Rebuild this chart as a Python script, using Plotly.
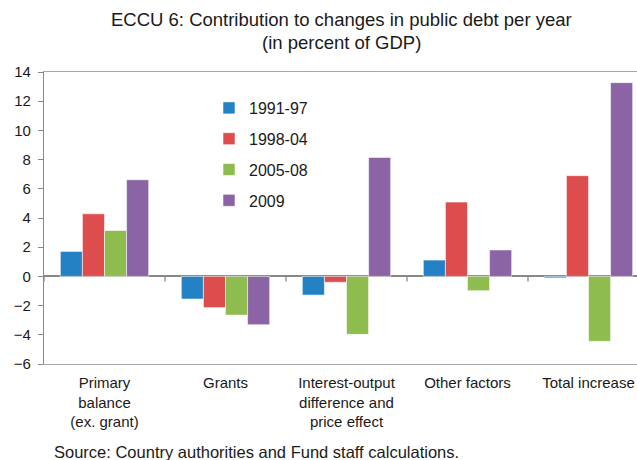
import plotly.graph_objects as go

# Contribution to changes in public debt per year, ECCU 6 (percent of GDP)
categories = ["Primary balance (ex. grant)", "Grants",
              "Interest-output difference and price effect",
              "Other factors", "Total increase"]
tick_labels = ["Primary<br>balance<br>(ex. grant)", "Grants",
               "Interest-output<br>difference and<br>price effect",
               "Other factors", "Total increase"]
series_names = ["1991-97", "1998-04", "2005-08", "2009"]
v_1991_97 = [1.71, -1.55, -1.28, 1.12, -0.10]
v_1998_04 = [4.29, -2.14, -0.40, 5.09, 6.90]
v_2005_08 = [3.15, -2.65, -3.97, -0.98, -4.45]
v_2009 = [6.62, -3.31, 8.15, 1.81, 13.27]
colors = ["#2381C4", "#DE4D4D", "#8FBC4F", "#8A64A4"]

title_lines = ["ECCU 6: Contribution to changes in public debt per year",
               "(in percent of GDP)"]
source_note = "Source: Country authorities and Fund staff calculations."

y_ticks = list(range(-6, 15, 2))
FONT = "Liberation Sans, Arial, sans-serif"
TXT = "#1a1a1a"

W, H = 637, 460
ML, MR, MT, MB = 44, 0, 72, 96
cat_px = 121.0
plot_w = W - ML - MR
plot_h = H - MT - MB
x_range = [-0.5, -0.5 + plot_w / cat_px]


def py_to_paper(py):
    """Convert a pixel row of the page into a paper y coordinate."""
    return 1 - (py - MT) / plot_h


fig = go.Figure()
for name, vals, col in zip(series_names,
                           [v_1991_97, v_1998_04, v_2005_08, v_2009], colors):
    fig.add_trace(go.Bar(
        x=list(range(len(categories))), y=vals, name=name,
        marker=dict(color=col, line=dict(color="rgba(255,255,255,0.7)", width=0.8)),
        legendgroup=name,
    ))

# category boundary ticks hanging below the zero line
shapes = []
for b in range(len(categories) + 1):
    shapes.append(dict(type="line", xref="x", yref="y", x0=b - 0.5, x1=b - 0.5,
                       ysizemode="pixel", yanchor=0, y0=0, y1=-5,
                       line=dict(color="#888888", width=1.3)))

annotations = []
for line, py in zip(title_lines, [20, 43]):
    annotations.append(dict(text=line, xref="paper", yref="paper",
                            x=(341 - ML) / plot_w, y=py_to_paper(py),
                            xanchor="center", yanchor="middle", showarrow=False,
                            font=dict(family=FONT, size=18.5, color=TXT)))
annotations.append(dict(text=source_note, xref="paper", yref="paper",
                        x=(52 - ML) / plot_w, y=py_to_paper(452),
                        xanchor="left", yanchor="middle", showarrow=False,
                        font=dict(family=FONT, size=16.5, color=TXT)))

fig.update_layout(
    width=W, height=H,
    margin=dict(l=ML, r=MR, t=MT, b=MB),
    paper_bgcolor="white", plot_bgcolor="white",
    barmode="group", bargap=0.27, bargroupgap=0,
    font=dict(family=FONT, size=15, color=TXT),
    xaxis=dict(range=x_range, tickvals=list(range(len(categories))), ticktext=tick_labels,
               ticks="", tickfont=dict(family=FONT, size=15, color=TXT),
               ticklabelstandoff=5,
               showline=True, mirror=True, linecolor="#A8A8A8", linewidth=1.3,
               showgrid=False, zeroline=False, automargin=False),
    yaxis=dict(range=[-6, 14], tickvals=y_ticks, ticks="outside", ticklen=5,
               tickcolor="#888888", showline=True, linecolor="#888888", linewidth=1.3,
               showgrid=False, zeroline=True, zerolinecolor="#888888", zerolinewidth=1.6,
               tickfont=dict(family=FONT, size=15, color=TXT), ticklabelstandoff=4,
               automargin=False),
    legend=dict(x=(209 - ML) / plot_w, y=py_to_paper(91),
                xanchor="left", yanchor="top", bgcolor="rgba(0,0,0,0)",
                font=dict(family=FONT, size=16, color=TXT),
                tracegroupgap=7, itemwidth=30),
    shapes=shapes, annotations=annotations,
)

fig.write_html("out.html")
